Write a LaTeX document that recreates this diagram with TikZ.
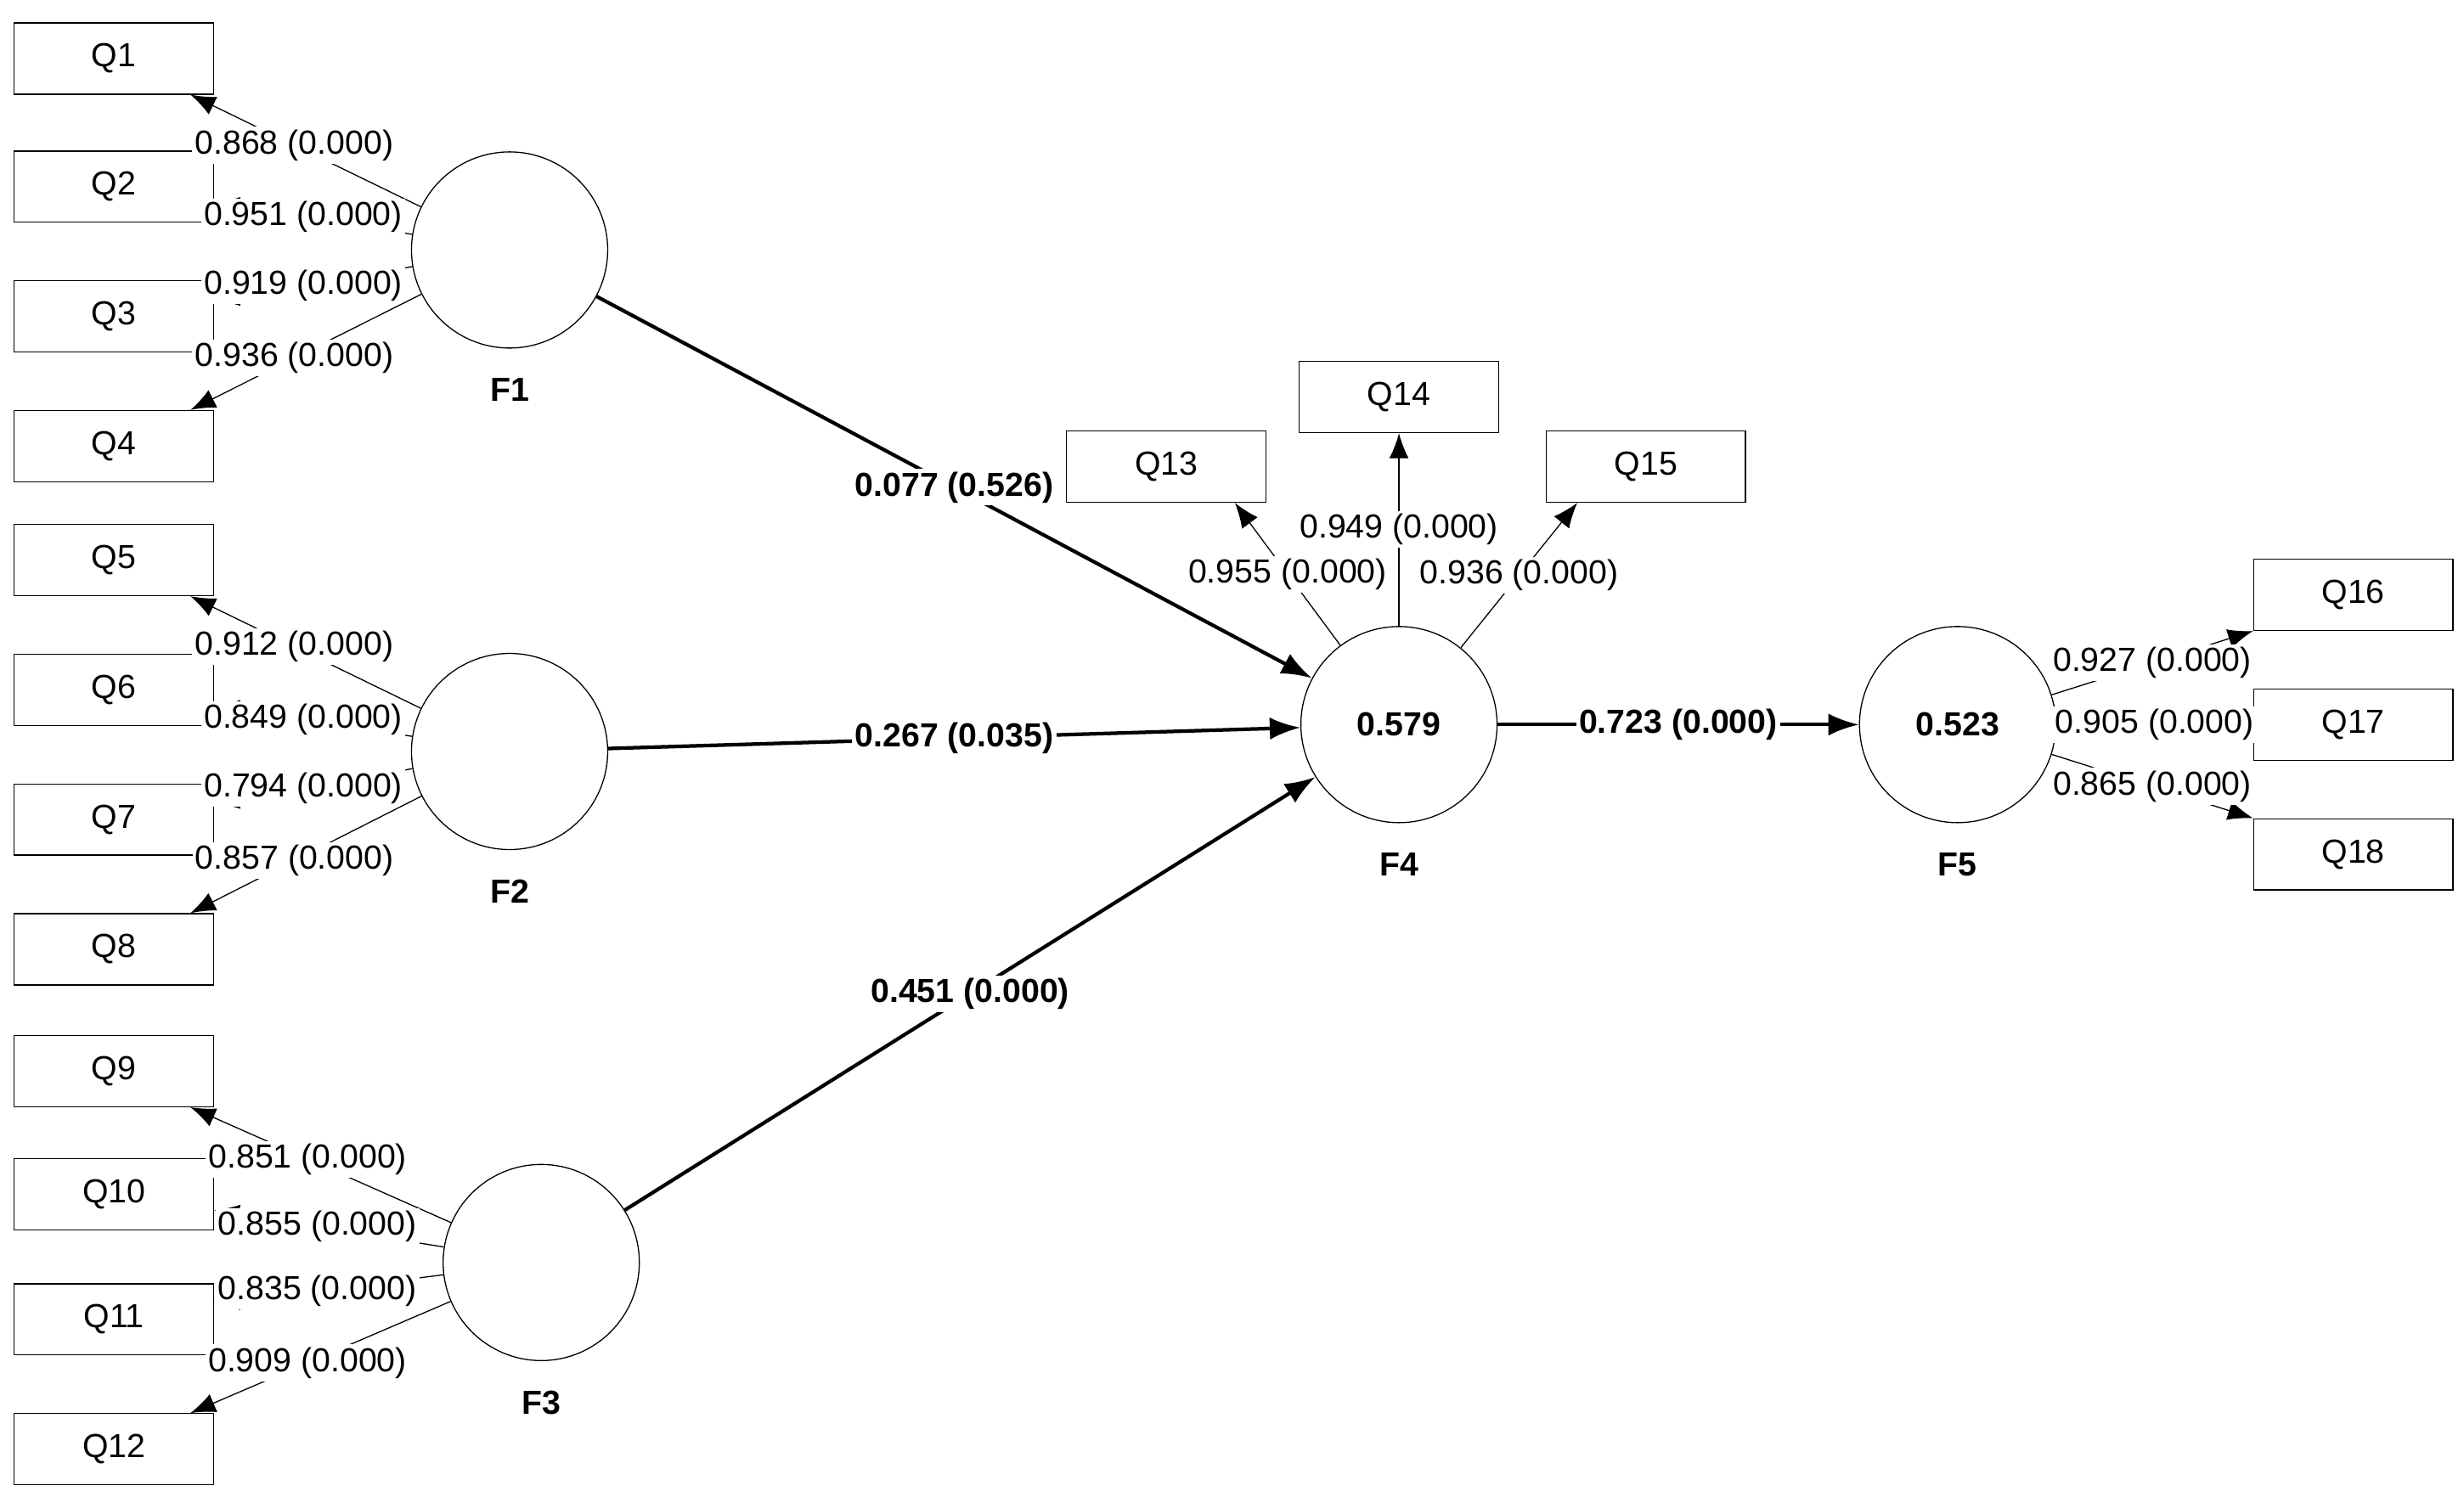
\documentclass[tikz,border=0pt]{standalone}
\usepackage{fontspec}
\setmainfont{Liberation Sans}
\usetikzlibrary{arrows.meta}
\usetikzlibrary{positioning}
\tikzstyle{item} = [rectangle, minimum width=2.52cm, minimum height=0.9cm, draw=black, font=\fontsize{12}{14}\selectfont]
\tikzstyle{latent} = [circle, minimum size=2.48cm, draw=black, font=\bfseries\fontsize{12}{14}\selectfont]
\tikzstyle{lvname} = [font=\bfseries\fontsize{12}{14}\selectfont]
\tikzstyle{load} = [thin,-{Latex[length=9pt,width=7pt]}]
\tikzstyle{struct} = [line width=1.3pt,-{Latex[length=11pt,width=8pt]}]
\tikzstyle{lbl} = [fill=white, inner sep=1pt, font=\fontsize{12}{14}\selectfont]
\tikzstyle{blbl} = [fill=white, inner sep=1pt, font=\bfseries\fontsize{12}{14}\selectfont]

\begin{document}
\begin{tikzpicture}[x=0.02cm, y=-0.02cm]
\useasboundingbox (0,0) rectangle (1557,946);
% indicators
\node (q1) [item] at (72,37) {Q1};
\node (q2) [item] at (72,118) {Q2};
\node (q3) [item] at (72,200) {Q3};
\node (q4) [item] at (72,282) {Q4};
\node (q5) [item] at (72,354) {Q5};
\node (q6) [item] at (72,436) {Q6};
\node (q7) [item] at (72,518) {Q7};
\node (q8) [item] at (72,600) {Q8};
\node (q9) [item] at (72,677) {Q9};
\node (q10) [item] at (72,755) {Q10};
\node (q11) [item] at (72,834) {Q11};
\node (q12) [item] at (72,916) {Q12};
\node (q13) [item] at (737,295) {Q13};
\node (q14) [item] at (884,251) {Q14};
\node (q15) [item] at (1040,295) {Q15};
\node (q16) [item] at (1487,376) {Q16};
\node (q17) [item] at (1487,458) {Q17};
\node (q18) [item] at (1487,540) {Q18};
% latent variables
\node (f1) [latent] at (322,158) {};
\node (f2) [latent] at (322,475) {};
\node (f3) [latent] at (342,798) {};
\node (f4) [latent] at (884,458) {0.579};
\node (f5) [latent] at (1237,458) {0.523};
\node (f1l) [lvname, below=0.25cm of f1] {F1};
\node (f2l) [lvname, below=0.25cm of f2] {F2};
\node (f3l) [lvname, below=0.25cm of f3] {F3};
\node (f4l) [lvname, below=0.25cm of f4] {F4};
\node (f5l) [lvname, below=0.25cm of f5] {F5};

% outer loadings
\draw [load] (f1) -- node[lbl, pos=0.55] {0.868 (0.000)} ([xshift=-0.3cm]q1.south east);
\draw [load] (f1) -- node[lbl, pos=0.55] {0.951 (0.000)} ([yshift=-0.2cm]q2.east);
\draw [load] (f1) -- node[lbl, pos=0.55] {0.919 (0.000)} ([yshift=0.2cm]q3.east);
\draw [load] (f1) -- node[lbl, pos=0.55] {0.936 (0.000)} ([xshift=-0.3cm]q4.north east);
\draw [load] (f2) -- node[lbl, pos=0.55] {0.912 (0.000)} ([xshift=-0.3cm]q5.south east);
\draw [load] (f2) -- node[lbl, pos=0.55] {0.849 (0.000)} ([yshift=-0.2cm]q6.east);
\draw [load] (f2) -- node[lbl, pos=0.55] {0.794 (0.000)} ([yshift=0.2cm]q7.east);
\draw [load] (f2) -- node[lbl, pos=0.55] {0.857 (0.000)} ([xshift=-0.3cm]q8.north east);
\draw [load] (f3) -- node[lbl, pos=0.55] {0.851 (0.000)} ([xshift=-0.3cm]q9.south east);
\draw [load] (f3) -- node[lbl, pos=0.55] {0.855 (0.000)} ([yshift=-0.2cm]q10.east);
\draw [load] (f3) -- node[lbl, pos=0.55] {0.835 (0.000)} ([yshift=0.2cm]q11.east);
\draw [load] (f3) -- node[lbl, pos=0.55] {0.909 (0.000)} ([xshift=-0.3cm]q12.north east);
\draw [load] (f4) -- node[lbl, pos=0.5] {0.955 (0.000)} ([xshift=-0.4cm]q13.south east);
\draw [load] (f4) -- node[lbl, pos=0.5] {0.949 (0.000)} (q14);
\draw [load] (f4) -- node[lbl, pos=0.5] {0.936 (0.000)} ([xshift=0.4cm]q15.south west);
\draw [load] (f5) -- node[lbl, pos=0.5] {0.927 (0.000)} (q16.south west);
\draw [load] (f5) -- node[lbl, pos=0.5] {0.905 (0.000)} (q17);
\draw [load] (f5) -- node[lbl, pos=0.5] {0.865 (0.000)} (q18.north west);

% inner model
\draw [struct] (f1) -- node[blbl, pos=0.5] {0.077 (0.526)} (f4);
\draw [struct] (f2) -- node[blbl, pos=0.5] {0.267 (0.035)} (f4);
\draw [struct] (f3) -- node[blbl, pos=0.5] {0.451 (0.000)} (f4);
\draw [struct] (f4) -- node[blbl, pos=0.5] {0.723 (0.000)} (f5);
\end{tikzpicture}
\end{document}
